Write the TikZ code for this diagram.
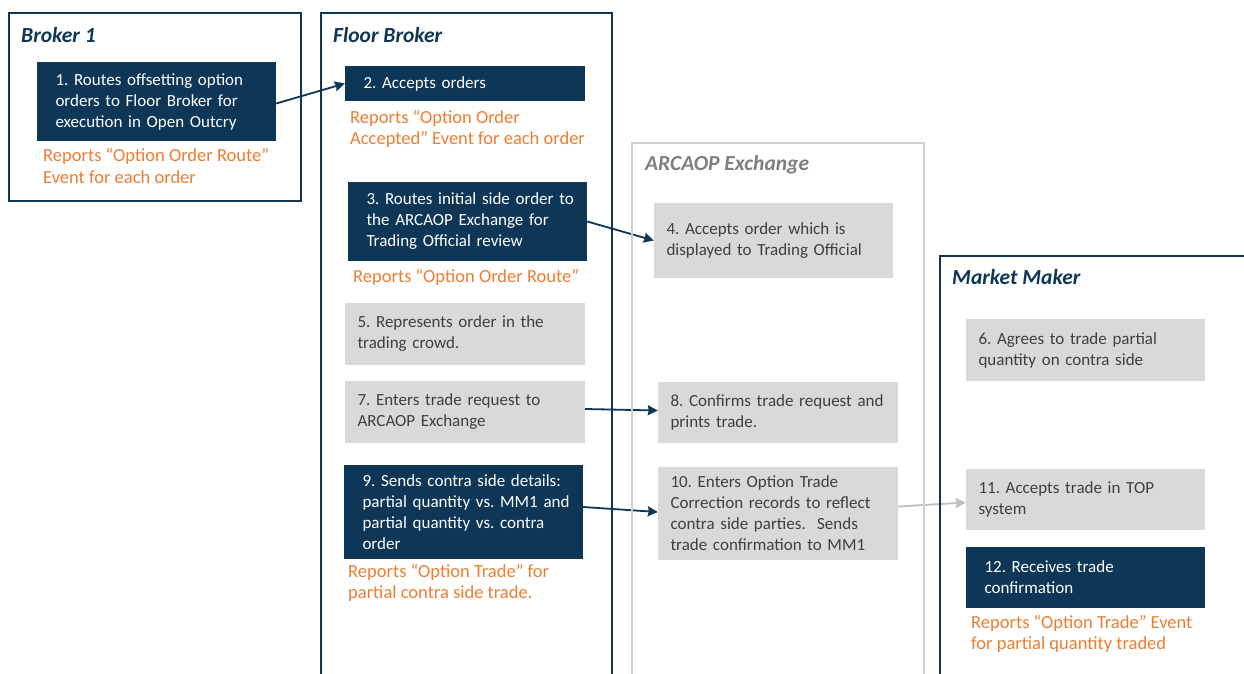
\documentclass[tikz,border=0pt]{standalone}
\usepackage{fontspec}
\setmainfont{Carlito}
\usetikzlibrary{arrows.meta}
\definecolor{navy}{HTML}{0D3657}
\definecolor{boxgray}{HTML}{D9D9D9}
\definecolor{txtgray}{HTML}{3F3F3F}
\definecolor{ttlgray}{HTML}{7F7F7F}
\definecolor{bordergray}{HTML}{D0D0D0}
\definecolor{rptorange}{HTML}{ED7D31}
\definecolor{arrgray}{HTML}{BFBFBF}
\newcommand{\boxfont}{\fontsize{17}{21}\selectfont\frenchspacing}
\newcommand{\rptfont}{\fontsize{18.5}{21.5}\selectfont\frenchspacing}
\newcommand{\nb}[1]{\mbox{#1}}
\tikzset{
  navybox/.style={fill=navy, draw=none, text=white, font=\boxfont, inner xsep=18.5pt, inner ysep=0pt, align=left},
  graybox/.style={fill=boxgray, draw=none, text=txtgray, font=\boxfont, inner xsep=12.5pt, inner ysep=0pt, align=left},
  rpt/.style={text=rptorange, font=\rptfont, inner sep=0pt, anchor=north west, align=left},
  ttl/.style={font=\fontsize{21.5}{25}\selectfont\bfseries\itshape, anchor=base west, inner sep=0pt},
  navyframe/.style={draw=navy, line width=2pt},
  grayframe/.style={draw=bordergray, line width=2pt},
  flow/.style={draw=navy, line width=1.8pt, -{Stealth[length=10pt,width=10pt,inset=1pt]}},
  flowgray/.style={draw=arrgray, line width=1.8pt, -{Stealth[length=10pt,width=10pt,inset=1pt]}}
}
\begin{document}
\begin{tikzpicture}[x=1pt,y=-1pt]
\useasboundingbox (0,0) rectangle (1244,673);
\node[ttl, text=navy] (t1) at (21,42) {Broker 1};
\node[ttl, text=navy] (t2) at (333,42) {Floor Broker};
\node[ttl, text=ttlgray] (t3) at (645,170) {ARCAOP Exchange};
\node[ttl, text=navy] (t4) at (952,284) {Market Maker};
% steps
\node[navybox, minimum width=239pt, minimum height=79pt, text width=202pt] (n1) at (156.5,101.5) {\nb{1. Routes offsetting option}\\\nb{orders to Floor Broker for}\\\nb{execution in Open Outcry}};
\node[navybox, minimum width=240pt, minimum height=35pt, text width=203pt] (n2) at (465,83.5) {2. Accepts orders};
\node[navybox, minimum width=239pt, minimum height=79pt, text width=202pt] (n3) at (467.5,221.5) {\nb{3. Routes initial side order to}\\\nb{the ARCAOP Exchange for}\\\nb{Trading Official review}};
\node[graybox, minimum width=239pt, minimum height=75pt, text width=214pt] (n4) at (773.5,240.5) {\nb{4. Accepts order which is}\\\nb{displayed to Trading Official}};
\node[graybox, minimum width=240pt, minimum height=62pt, text width=215pt] (n5) at (465,334) {\nb{5. Represents order in the}\\\nb{trading crowd.}};
\node[graybox, minimum width=239pt, minimum height=62pt, text width=214pt] (n6) at (1085.5,350) {\nb{6. Agrees to trade partial}\\\nb{quantity on contra side}};
\node[graybox, minimum width=240pt, minimum height=62pt, text width=215pt] (n7) at (465,412) {\nb{7. Enters trade request to}\\\nb{ARCAOP Exchange}};
\node[graybox, minimum width=240pt, minimum height=61pt, text width=215pt] (n8) at (778,412.5) {\nb{8. Confirms trade request and}\\\nb{prints trade.}};
\node[navybox, minimum width=239pt, minimum height=94pt, text width=202pt] (n9) at (463.5,512) {\nb{9. Sends contra side details:}\\\nb{partial quantity vs. MM1 and}\\\nb{partial quantity vs. contra}\\order};
\node[graybox, minimum width=240pt, minimum height=93pt, text width=215pt] (n10) at (778,513.5) {\nb{10. Enters Option Trade}\\\nb{Correction records to reflect}\\\nb{contra side parties.\ \ Sends}\\\nb{trade confirmation to MM1}};
\node[graybox, minimum width=239pt, minimum height=61pt, text width=214pt] (n11) at (1085.5,499.5) {\nb{11. Accepts trade in TOP}\\system};
\node[navybox, minimum width=239pt, minimum height=61pt, text width=202pt] (n12) at (1085.5,577.5) {\nb{12. Receives trade}\\confirmation};
% reports
\node[rpt] (r1) at (43,148) {\nb{Reports “Option Order Route”}\\\nb{Event for each order}};
\node[rpt] (r2) at (350,109.5) {\nb{Reports “Option Order}\\\nb{Accepted” Event for each order}};
\node[rpt] (r3) at (353,268.5) {\nb{Reports “Option Order Route”}};
\node[rpt] (r9) at (348,563.5) {\nb{Reports “Option Trade” for}\\\nb{partial contra side trade.}};
\node[rpt] (r12) at (971,614.5) {\nb{Reports “Option Trade” Event}\\\nb{for partial quantity traded}};
% connectors
\draw[flow] ([yshift=-2pt]n1.east) -- (n2.west);
\draw[flow] (n3.east) -- (n4.west);
\draw[flow] ([yshift=3pt]n7.east) -- ([yshift=2pt]n8.west);
\draw[flow] ([yshift=5pt]n9.east) -- ([yshift=1.5pt]n10.west);
\draw[flowgray] ([yshift=7pt]n10.east) -- ([yshift=-3pt]n11.west);
% swimlanes (drawn over connectors)
\draw[navyframe] (9,13) rectangle (301,201);
\draw[navyframe] (321,680) -- (321,13) -- (612,13) -- (612,680);
\draw[grayframe] (632,680) -- (632,143) -- (924,143) -- (924,680);
\draw[navyframe] (940,680) -- (940,256) -- (1250,256);
\end{tikzpicture}
\end{document}
